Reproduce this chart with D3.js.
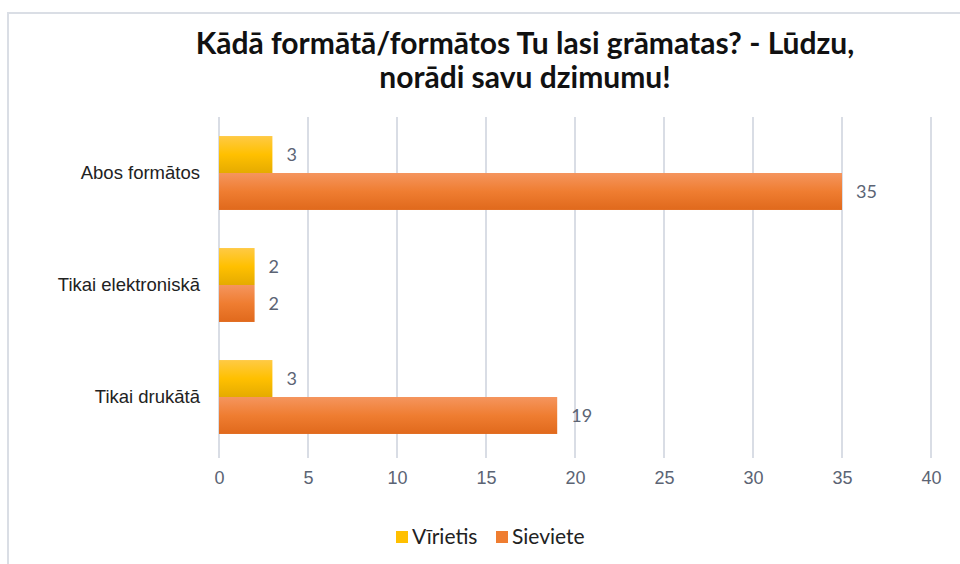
<!DOCTYPE html>
<html lang="lv">
<head>
    <meta charset="utf-8">
    <title>Kādā formātā/formātos Tu lasi grāmatas?</title>
    <style>
        body { margin: 0; background: #fff; }
        svg { display: block; font-family: Lato, "Open Sans", sans-serif; }
        .grid line { stroke: #d9dde5; stroke-width: 2; }
        .axis text { fill: #5b6474; font-size: 18px; }
        .cat text { fill: #222; font-size: 18.5px; }
        .label { fill: #5b6474; font-size: 18px; }
        .title { font-weight: bold; font-size: 30px; fill: #111; }
    </style>
</head>
<body>
<div id="chart"></div>
<script src="https://d3js.org/d3.v7.min.js"></script>
<script>
    var categories = ["Abos formātos", "Tikai elektroniskā", "Tikai drukātā"];
    var seriesNames = ["Vīrietis", "Sieviete"];
    var virietis = [3, 2, 3];
    var sieviete = [35, 2, 19];
    var xTicks = [0, 5, 10, 15, 20, 25, 30, 35, 40];

    var width = 960, height = 564;
    var plot = {left: 219, right: 931, top: 117, bottom: 453};

    var svg = d3.select("#chart").append("svg")
        .attr("width", width).attr("height", height);

    // gradients like the office bars
    var defs = svg.append("defs");
    var grads = [
        {id: "gY", stops: ["#ffca45", "#ffc000", "#e5ab00"]},
        {id: "gO", stops: ["#f5955e", "#ef7d31", "#e0691c"]}
    ];
    grads.forEach(function (g) {
        var lg = defs.append("linearGradient").attr("id", g.id)
            .attr("x1", 0).attr("y1", 0).attr("x2", 0).attr("y2", 1);
        g.stops.forEach(function (c, i) {
            lg.append("stop").attr("offset", (i * 50) + "%").attr("stop-color", c);
        });
    });
    var fills = ["url(#gY)", "url(#gO)"];
    var legendColors = ["#ffc000", "#ef7d31"];

    // frame
    svg.append("rect").attr("x", 8).attr("y", 13)
        .attr("width", 960).attr("height", 600)
        .attr("fill", "none").attr("stroke", "#dadee5").attr("stroke-width", 2);

    // title
    var title = svg.append("text").attr("class", "title").attr("text-anchor", "middle");
    title.append("tspan").attr("x", 525).attr("y", 54).text("Kādā formātā/formātos Tu lasi grāmatas? - Lūdzu,");
    title.append("tspan").attr("x", 525).attr("y", 88).text("norādi savu dzimumu!");

    var x = d3.scaleLinear().domain([0, 40]).range([plot.left, plot.right]);
    var y = d3.scaleBand().domain(categories).range([plot.top, plot.bottom]).paddingInner(0.34).paddingOuter(0.17);
    var ySub = d3.scaleBand().domain(seriesNames).range([0, y.bandwidth()]);

    // gridlines
    svg.append("g").attr("class", "grid")
        .selectAll("line").data(xTicks).enter().append("line")
        .attr("x1", function (d) { return x(d); })
        .attr("x2", function (d) { return x(d); })
        .attr("y1", plot.top).attr("y2", plot.bottom + 5);

    // x axis labels
    var xAxis = d3.axisBottom(x).tickValues(xTicks).tickSize(0).tickPadding(18);
    svg.append("g").attr("class", "axis")
        .attr("transform", "translate(0," + plot.bottom + ")")
        .call(xAxis)
        .call(function (g) { g.select(".domain").remove(); });

    // category labels
    var yAxis = d3.axisLeft(y).tickSize(0).tickPadding(19);
    svg.append("g").attr("class", "axis cat")
        .attr("transform", "translate(" + plot.left + ",0)")
        .call(yAxis)
        .call(function (g) { g.select(".domain").remove(); });

    var series = [virietis, sieviete];
    series.forEach(function (vals, si) {
        var g = svg.append("g");
        g.selectAll("rect").data(vals).enter().append("rect")
            .attr("x", x(0))
            .attr("y", function (d, i) { return y(categories[i]) + ySub(seriesNames[si]); })
            .attr("width", function (d) { return x(d) - x(0); })
            .attr("height", ySub.bandwidth())
            .attr("fill", fills[si]);
        g.selectAll("text").data(vals).enter().append("text")
            .attr("class", "label")
            .attr("x", function (d) { return x(d) + 14; })
            .attr("y", function (d, i) { return y(categories[i]) + ySub(seriesNames[si]) + ySub.bandwidth() / 2; })
            .attr("dy", "0.35em")
            .text(function (d) { return d; });
    });

    // legend
    var legend = svg.append("g").attr("transform", "translate(0,537)");
    var lx = [396, 496];
    seriesNames.forEach(function (name, i) {
        legend.append("rect").attr("x", lx[i]).attr("y", -6).attr("width", 12).attr("height", 12)
            .attr("fill", legendColors[i]);
        legend.append("text").attr("x", lx[i] + 16).attr("y", 0).attr("dy", "0.35em")
            .attr("font-size", 21).attr("fill", "#222").text(name);
    });
</script>
</body>
</html>
